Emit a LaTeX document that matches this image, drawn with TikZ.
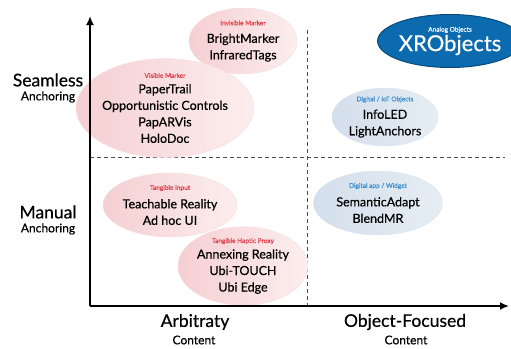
\documentclass[tikz,border=0pt]{standalone}
\usepackage{fontspec}
\setmainfont{Lato}[FakeBold=0.5]
\usepackage{tikz}
\usepackage{xcolor}
\usetikzlibrary{shapes.geometric}
\usetikzlibrary{arrows.meta}
\definecolor{pinkl}{HTML}{F5CFD2}
\definecolor{pinkr}{HTML}{FCEEEE}
\definecolor{bluel}{HTML}{D3DFEC}
\definecolor{bluer}{HTML}{E6EDF4}
\definecolor{tagred}{HTML}{E0404C}
\definecolor{tagblue}{HTML}{3B8ECB}
\definecolor{xrblue}{HTML}{0B6BAE}
\definecolor{xredge}{HTML}{0A4A7C}
\tikzset{blob/.style={ellipse,inner sep=0pt,align=center,
   font=\fontsize{12.5}{16.5}\selectfont},
 pinkblob/.style={blob,left color=pinkl,right color=pinkr,draw=pinkl!70!white},
 blueblob/.style={blob,left color=bluel,right color=bluer,draw=bluel!80!white},
 axis/.style={line width=2pt,-{Latex[length=9pt,width=8pt]}},
 divider/.style={draw=black!70,line width=0.8pt,dash pattern=on 4pt off 3pt},
 bigword/.style={font=\fontsize{17.5}{20}\selectfont},
 smallword/.style={font=\fontsize{12}{14}\selectfont},
 }
\newcommand{\redtag}[1]{{\fontsize{6.5}{8}\selectfont\color{tagred}#1}}
\newcommand{\bluetag}[1]{{\fontsize{6.5}{8}\selectfont\color{tagblue}#1}}

\begin{document}
\begin{tikzpicture}[x=1pt,y=-1pt]
        \useasboundingbox (0,0) rectangle (511,348);
        \coordinate (origin) at (90,306);
        \coordinate (ytop) at (90,16);
        \coordinate (xend) at (509,306);
        \coordinate (vtop) at (307,30);
        \coordinate (vbot) at (307,306);
        \coordinate (hleft) at (90,157);
        \coordinate (hright) at (505,157);
        \draw [divider] (vtop) -- (vbot);
        \draw [divider] (hleft) -- (hright);
        \node [pinkblob, minimum width=108, minimum height=66] (bright) at (243,41)
            {\redtag{Invisible Marker}\\[1pt]BrightMarker\\InfraredTags};
        \node [pinkblob, minimum width=142, minimum height=80] (visible) at (165,108)
            {\redtag{Visible Marker}\\[-1pt]PaperTrail\\Opportunistic Controls\\PapARVis\\HoloDoc};
        \node [pinkblob, minimum width=126, minimum height=64] (teach) at (170,205)
            {\redtag{Tangible Input}\\[2pt]Teachable Reality\\Ad hoc UI};
        \node [pinkblob, minimum width=122, minimum height=68] (annex) at (243,266)
            {\redtag{Tangible Haptic Proxy}\\[-1pt]Annexing Reality\\Ubi-TOUCH\\Ubi Edge};
        \node [blueblob, minimum width=106, minimum height=57] (infoled) at (385,117)
            {\bluetag{Digital / IoT Objects}\\[1pt]InfoLED\\LightAnchors};
        \node [blueblob, minimum width=129, minimum height=64] (semantic) at (378,203)
            {\bluetag{Digital app / Widget}\\[2pt]SemanticAdapt\\BlendMR};
        \node [ellipse, fill=xrblue, draw=xredge, line width=1pt, inner sep=0pt,
            minimum width=116, minimum height=53, align=center, text=white] (xro) at (450,41)
            {{\fontsize{6.5}{8}\selectfont Analog Objects}\\[1pt]{\fontsize{22}{22}\selectfont XRObjects}};
        \draw [axis] (origin) -- (ytop);
        \draw [axis] (origin) -- (xend);
        \node [bigword] (seam) at (48,80) {Seamless};
        \node [smallword] (seamsub) at (48,97) {Anchoring};
        \node [bigword] (manual) at (48,212) {Manual};
        \node [smallword] (manualsub) at (48,229) {Anchoring};
        \node [bigword] (arb) at (195,322) {Arbitraty};
        \node [smallword] (arbsub) at (194,340) {Content};
        \node [bigword] (objf) at (405,322) {Object-Focused};
        \node [smallword] (objfsub) at (406,340) {Content};
    \end{tikzpicture}
\end{document}
